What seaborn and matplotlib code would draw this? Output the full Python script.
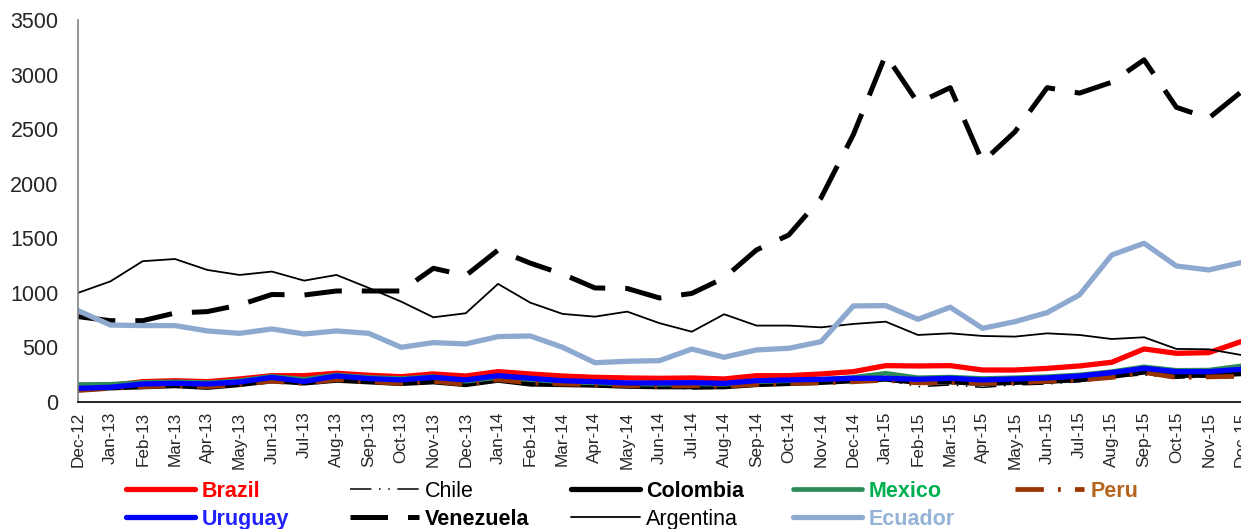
import matplotlib
matplotlib.use("Agg")
import matplotlib.pyplot as plt
import seaborn as sns
import pandas as pd

months = ["Dec-12", "Jan-13", "Feb-13", "Mar-13", "Apr-13", "May-13", "Jun-13", "Jul-13",
          "Aug-13", "Sep-13", "Oct-13", "Nov-13", "Dec-13", "Jan-14", "Feb-14", "Mar-14",
          "Apr-14", "May-14", "Jun-14", "Jul-14", "Aug-14", "Sep-14", "Oct-14", "Nov-14",
          "Dec-14", "Jan-15", "Feb-15", "Mar-15", "Apr-15", "May-15", "Jun-15", "Jul-15",
          "Aug-15", "Sep-15", "Oct-15", "Nov-15", "Dec-15"]

brazil = [140, 150, 186, 195, 186, 211, 241, 241, 263, 245, 232, 257, 238, 278, 257, 238,
          226, 220, 217, 220, 211, 241, 241, 257, 278, 333, 330, 333, 293, 293, 308, 330,
          364, 486, 446, 452, 553]
chile = [110, 130, 135, 145, 120, 155, 180, 165, 190, 175, 160, 175, 150, 195, 150, 150,
         145, 135, 130, 120, 125, 150, 160, 170, 185, 205, 140, 156, 134, 156, 165, 186,
         232, 247, 217, 232, 247]
colombia = [115, 130, 140, 150, 135, 160, 195, 175, 200, 185, 170, 185, 160, 200, 165, 160,
            155, 145, 140, 140, 140, 160, 170, 180, 195, 210, 180, 185, 170, 180, 190, 205,
            235, 275, 245, 245, 260]
mexico = [160, 162, 180, 185, 177, 195, 235, 208, 248, 225, 215, 232, 190, 225, 205, 185,
          175, 165, 162, 165, 162, 185, 195, 205, 225, 263, 222, 228, 215, 222, 232, 248,
          278, 322, 290, 292, 330]
peru = [105, 125, 140, 150, 140, 160, 190, 170, 205, 185, 170, 190, 160, 205, 175, 165,
        160, 150, 145, 150, 145, 160, 170, 175, 185, 200, 175, 180, 170, 175, 190, 200,
        225, 270, 225, 230, 235]
uruguay = [125, 135, 165, 171, 165, 183, 225, 188, 238, 214, 202, 226, 202, 241, 217, 195,
           186, 174, 174, 177, 171, 195, 202, 208, 217, 217, 208, 217, 202, 211, 220, 238,
           269, 308, 278, 278, 300]
venezuela = [782, 745, 745, 815, 828, 889, 985, 980, 1017, 1017, 1017, 1225, 1158, 1392, 1272, 1172,
             1045, 1040, 953, 995, 1137, 1393, 1530, 1870, 2450, 3180, 2740, 2880, 2200, 2475, 2880, 2830,
             2930, 3135, 2700, 2600, 2840]
argentina = [1000, 1105, 1290, 1310, 1210, 1164, 1195, 1112, 1164, 1045, 920, 776, 813, 1082, 910, 807,
             782, 828, 722, 644, 804, 700, 700, 684, 715, 736, 614, 629, 605, 599, 629, 614,
             577, 593, 486, 483, 431]
ecuador = [837, 705, 700, 700, 651, 629, 669, 623, 651, 629, 501, 544, 532, 599, 605, 501,
           360, 373, 379, 485, 410, 477, 492, 553, 880, 883, 758, 868, 675, 736, 819, 981,
           1347, 1454, 1246, 1210, 1277]

y_ticks = [0, 500, 1000, 1500, 2000, 2500, 3000, 3500]

sns.set_theme(style="white")
plt.rcParams["font.family"] = ["Liberation Sans", "DejaVu Sans"]

fig = plt.figure(figsize=(12.41, 5.29), dpi=100)
ax = fig.add_axes([0.0629, 0.2401, 0.9371, 0.7221])

idx = list(range(len(months)))
df = pd.DataFrame({
    "idx": idx, "Brazil": brazil, "Chile": chile, "Colombia": colombia, "Mexico": mexico,
    "Peru": peru, "Uruguay": uruguay, "Venezuela": venezuela, "Argentina": argentina,
    "Ecuador": ecuador,
})

# name: (line colour, width, dash style, label colour, bold label)
styles = {
    "Brazil": ("#FF0000", 3.8, "-", "#FF0000", True),
    "Chile": ("#000000", 1.1, (0, (14, 5, 1, 5, 1, 5)), "#000000", False),
    "Colombia": ("#000000", 3.8, "-", "#000000", True),
    "Mexico": ("#2E8B57", 3.4, "-", "#00B050", True),
    "Peru": ("#993300", 3.4, (0, (6, 3, 0.6, 3)), "#B5651D", True),
    "Uruguay": ("#0000FF", 3.8, "-", "#2222FF", True),
    "Venezuela": ("#000000", 3.6, (0, (7.5, 4)), "#000000", True),
    "Argentina": ("#000000", 1.3, "-", "#000000", False),
    "Ecuador": ("#8EA9CF", 3.8, "-", "#95B3D7", True),
}

handles = {}
for name, (col, lw, ls, _, _) in styles.items():
    sns.lineplot(data=df, x="idx", y=name, ax=ax, color=col, linewidth=lw,
                 linestyle=ls, label=name, legend=False)
    handles[name] = ax.get_lines()[-1]

ax.set_xlim(0, len(months) - 1)
ax.set_ylim(0, 3500)
ax.set_yticks(y_ticks)
ax.set_yticklabels([str(v) for v in y_ticks], fontsize=15.5)
ax.set_xticks(idx)
ax.set_xticklabels(months, rotation=90, fontsize=12.3)
ax.tick_params(axis="both", length=0)
ax.tick_params(axis="y", pad=14)
ax.tick_params(axis="x", pad=7)
ax.set_xlabel("")
ax.set_ylabel("")
for side in ("top", "right"):
    ax.spines[side].set_visible(False)
ax.spines["left"].set_color("#808080")
ax.spines["left"].set_linewidth(1.2)
ax.spines["bottom"].set_color("#000000")
ax.spines["bottom"].set_linewidth(1.2)

# Legend laid out as fixed-width columns underneath the chart
columns = [["Brazil", "Uruguay"], ["Chile", "Venezuela"], ["Colombia", "Argentina"],
           ["Mexico", "Ecuador"], ["Peru"]]
col_x = [126, 350, 571, 793, 1015]
for names, x0 in zip(columns, col_x):
    leg = fig.legend([handles[n] for n in names], names,
                     loc="upper left", bbox_to_anchor=(x0 / 1241, 1 - 481 / 529),
                     frameon=False, fontsize=15.5, handlelength=3.2, handletextpad=0.3,
                     borderpad=0, borderaxespad=0, labelspacing=0.32)
    for txt, n in zip(leg.get_texts(), names):
        txt.set_color(styles[n][3])
        txt.set_fontweight("bold" if styles[n][4] else "normal")

fig.savefig("out.png", dpi=100)
